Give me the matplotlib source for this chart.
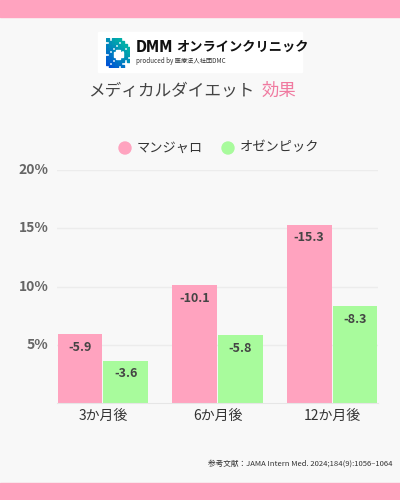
import matplotlib
matplotlib.use("Agg")
import matplotlib.pyplot as plt
from matplotlib.patches import Rectangle, Circle
from matplotlib.transforms import ScaledTranslation
import numpy as np

plt.rcParams['font.family'] = ['Noto Sans CJK JP', 'DejaVu Sans']

categories = ["3か月後", "6か月後", "12か月後"]
series_names = ["マンジャロ", "オゼンピック"]
mounjaro = [-5.9, -10.1, -15.3]
ozempic = [-3.6, -5.8, -8.3]
yticks = [5, 10, 15, 20]
ytick_labels = ["5%", "10%", "15%", "20%"]

PINK = "#ffa3bf"
GREEN = "#a8fb9c"
BG = "#f8f8f8"

fig = plt.figure(figsize=(4, 5), dpi=100, facecolor=BG)

fig.patches.append(Rectangle((0, 1 - 17/500), 1, 17/500, transform=fig.transFigure, color=PINK, zorder=0))
fig.patches.append(Rectangle((0, 0), 1, 17/500, transform=fig.transFigure, color=PINK, zorder=0))

fig.patches.append(Rectangle((98/400, 1 - 72/500), 204/400, 40/500, transform=fig.transFigure,
                             color="white", zorder=0.5))
lax = fig.add_axes([106/400, 1 - 68/500, 24/400, 30/500], zorder=2)
lax.set_xlim(0, 8); lax.set_ylim(0, 10); lax.axis("off")
cmap = plt.get_cmap("winter")
for i in range(8):
    for j in range(10):
        if (i + j * 3) % 4 != 0 and not (i > 5 and (j < 2 or j > 7)):
            lax.add_patch(Rectangle((i, j), 0.85, 0.85, color=cmap(0.3 + 0.5 * (i + j) / 17)))
lax.add_patch(Rectangle((2.5, 3.8), 3, 1.4, color="white"))
lax.add_patch(Rectangle((3.3, 3), 1.4, 3, color="white"))
fig.text(136/400, 1 - 47/500, "DMM", fontsize=10.5, fontweight="heavy",
         color="#111111", va="center", ha="left", family="DejaVu Sans", stretch="condensed")
fig.text(176/400, 1 - 47/500, "オンラインクリニック", fontsize=9.5, fontweight="bold",
         color="#111111", va="center", ha="left")
fig.text(136/400, 1 - 61/500, "produced by 医療法人社団DMC", fontsize=4.5, color="#333333",
         va="center", ha="left")

fig.text(254/400, 1 - 91/500, "メディカルダイエット", fontsize=12, color="#444444",
         ha="right", va="center")
fig.text(262/400, 1 - 91/500, "効果", fontsize=12.5, color="#f07aa0", ha="left", va="center")

for x, name, c in [(125, series_names[0], PINK), (228, series_names[1], GREEN)]:
    circ = Circle((x/100, 5 - 148/100), 0.06, transform=fig.dpi_scale_trans, color=c)
    fig.patches.append(circ)
    fig.text((x + 12)/400, 1 - 148/500, name, fontsize=9.5, color="#333333", va="center", ha="left")

ax = fig.add_axes([57/400, 1 - 403/500, 321/400, 233/500])
ax.set_facecolor(BG)
x = np.arange(len(categories))
w = 0.39
b1 = ax.bar(x - 0.2, np.abs(mounjaro), w, color=PINK, zorder=2)
b2 = ax.bar(x + 0.2, np.abs(ozempic), w, color=GREEN, zorder=2)
for bars, vals in [(b1, mounjaro), (b2, ozempic)]:
    for bar, v in zip(bars, vals):
        ax.text(bar.get_x() + bar.get_width()/2, bar.get_height() - 0.55, f"{v}",
                ha="center", va="top", fontsize=9, fontweight="bold", color="#444444", zorder=3)
ax.set_xlim(-0.4, 2.4)
ax.set_ylim(0, 20)
ax.set_yticks(yticks)
ax.set_yticklabels(ytick_labels, fontsize=10, fontweight="bold", color="#666666", va="center")
off = ScaledTranslation(0, 4/100, fig.dpi_scale_trans)
for lbl in ax.get_yticklabels():
    lbl.set_transform(lbl.get_transform() + off)
ax.set_xticks(x)
ax.set_xticklabels(categories, fontsize=10, color="#333333")
ax.tick_params(length=0, pad=4)
ax.tick_params(axis="y", pad=6)
ax.grid(axis="y", color="#ececec", linewidth=1, zorder=0)
for s in ["top", "right", "left"]:
    ax.spines[s].set_visible(False)
ax.spines["bottom"].set_color("#e6e6e6")

fig.text(393/400, 1 - 464/500, "参考文献：JAMA Intern Med. 2024;184(9):1056–1064", fontsize=5.5,
         color="#333333", ha="right", va="center")

fig.savefig("out.png", dpi=100, facecolor=BG)
